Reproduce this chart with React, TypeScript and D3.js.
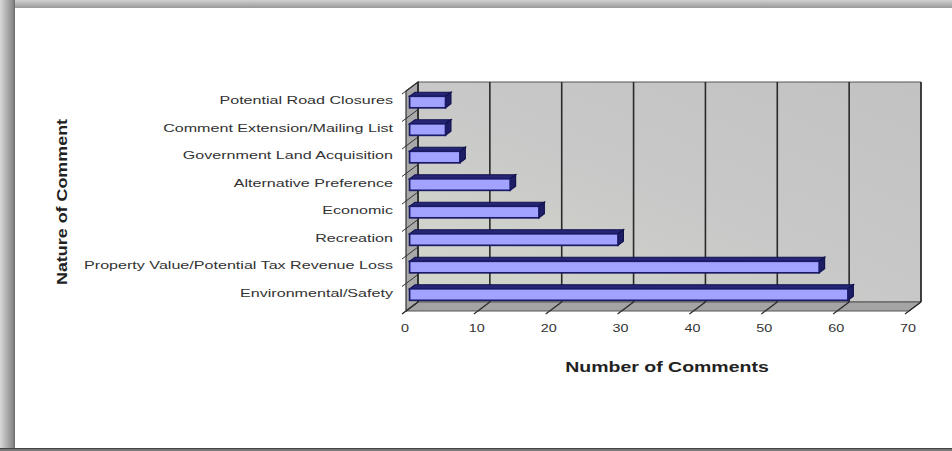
import React from "react";
import * as d3 from "d3";

const categories = [
  "Potential Road Closures",
  "Comment Extension/Mailing List",
  "Government Land Acquisition",
  "Alternative Preference",
  "Economic",
  "Recreation",
  "Property Value/Potential Tax Revenue Loss",
  "Environmental/Safety",
];
const values = [5, 5, 7, 14, 18, 29, 57, 61];
const xTicks = [0, 10, 20, 30, 40, 50, 60, 70];
const xTitle = "Number of Comments";
const yTitle = "Nature of Comment";

const W = 952;
const H = 451;
const DX = 12;
const DY = -9;
const FRONT_LEFT = 406;
const FRONT_RIGHT = 909;
const FRONT_TOP = 91;
const FRONT_BOTTOM = 311;
const F1 = 0.3;
const F2 = 0.75;

export default function App() {
  const x = d3.scaleLinear().domain([0, 70]).range([FRONT_LEFT, FRONT_RIGHT]);
  const y = d3.scaleBand<string>().domain(categories).range([FRONT_TOP, FRONT_BOTTOM]).paddingInner(0).paddingOuter(0);
  const bw = y.bandwidth();
  const barH = bw * 0.42;

  const pt = (px: number, py: number) => `${px},${py}`;
  const backWall = [
    pt(x(0) + DX, FRONT_TOP + DY),
    pt(x(70) + DX, FRONT_TOP + DY),
    pt(x(70) + DX, FRONT_BOTTOM + DY),
    pt(x(0) + DX, FRONT_BOTTOM + DY),
  ].join(" ");
  const floor = [
    pt(x(0), FRONT_BOTTOM),
    pt(x(70), FRONT_BOTTOM),
    pt(x(70) + DX, FRONT_BOTTOM + DY),
    pt(x(0) + DX, FRONT_BOTTOM + DY),
  ].join(" ");
  const leftWall = [
    pt(x(0), FRONT_TOP),
    pt(x(0) + DX, FRONT_TOP + DY),
    pt(x(0) + DX, FRONT_BOTTOM + DY),
    pt(x(0), FRONT_BOTTOM),
  ].join(" ");

  const labelFont = "'Liberation Sans', Arial, sans-serif";

  return (
    <svg width={W} height={H} style={{ position: "fixed", left: 0, top: 0, display: "block" }}>
      <defs>
        <linearGradient id="topBand" x1="0" y1="0" x2="0" y2="1">
          <stop offset="0" stopColor="#d0d0d0" />
          <stop offset="1" stopColor="#999999" />
        </linearGradient>
        <linearGradient id="leftBand" x1="0" y1="0" x2="1" y2="0">
          <stop offset="0" stopColor="#d8d8d8" />
          <stop offset="0.85" stopColor="#8a8a8a" />
          <stop offset="1" stopColor="#6a6a6a" />
        </linearGradient>
        <linearGradient id="wallGrad" x1="0" y1="1" x2="1" y2="0">
          <stop offset="0" stopColor="#d4d8cc" />
          <stop offset="0.5" stopColor="#c8c8c8" />
          <stop offset="1" stopColor="#c2c2c2" />
        </linearGradient>
      </defs>
      <rect x={0} y={0} width={W} height={H} fill="#ffffff" />
      <rect x={0} y={0} width={W} height={8} fill="url(#topBand)" />
      <rect x={0} y={0} width={15} height={H} fill="url(#leftBand)" />
      <rect x={0} y={H - 3} width={W} height={3} fill="#777777" />
      <rect x={0} y={H - 3} width={W} height={1} fill="#444444" />

      {/* walls */}
      <polygon points={backWall} fill="url(#wallGrad)" stroke="#555" strokeWidth={1} />
      <polygon points={floor} fill="#a4a4a4" stroke="#555" strokeWidth={1} />
      <polygon points={leftWall} fill="#a9a9a9" stroke="#333" strokeWidth={1.2} />

      {/* gridlines on back wall and floor */}
      {xTicks.map((t) => (
        <g key={"g" + t}>
          <line x1={x(t) + DX} x2={x(t) + DX} y1={FRONT_TOP + DY} y2={FRONT_BOTTOM + DY} stroke="#2a2a2a" strokeWidth={1.6} />
          <line x1={x(t) + DX} x2={x(t)} y1={FRONT_BOTTOM + DY} y2={FRONT_BOTTOM} stroke="#2a2a2a" strokeWidth={1.4} />
          <line x1={x(t)} x2={x(t) - 4} y1={FRONT_BOTTOM} y2={FRONT_BOTTOM + 3} stroke="#2a2a2a" strokeWidth={1.2} />
        </g>
      ))}

      {/* category ticks on left wall */}
      {[...categories.map((c) => y(c) as number), FRONT_BOTTOM].map((yy, i) => (
        <g key={"ct" + i}>
          <line x1={x(0)} x2={x(0) + DX} y1={yy} y2={yy + DY} stroke="#333" strokeWidth={1} />
          <line x1={x(0)} x2={x(0) - 4} y1={yy} y2={yy + 3} stroke="#333" strokeWidth={1} />
        </g>
      ))}

      {/* bars */}
      {categories.map((c, i) => {
        const v = values[i];
        const cy = (y(c) as number) + bw / 2;
        const fx0 = x(0) + F1 * DX;
        const fx1 = x(v) + F1 * DX;
        const fy0 = cy - barH / 2 + F1 * DY;
        const fy1 = cy + barH / 2 + F1 * DY;
        const ddx = (F2 - F1) * DX;
        const ddy = (F2 - F1) * DY;
        const top = [pt(fx0, fy0), pt(fx1, fy0), pt(fx1 + ddx, fy0 + ddy), pt(fx0 + ddx, fy0 + ddy)].join(" ");
        const end = [pt(fx1, fy0), pt(fx1 + ddx, fy0 + ddy), pt(fx1 + ddx, fy1 + ddy), pt(fx1, fy1)].join(" ");
        return (
          <g key={c}>
            <polygon points={top} fill="#262676" stroke="#12124f" strokeWidth={1.2} />
            <polygon points={end} fill="#1e1e66" stroke="#12124f" strokeWidth={1.2} />
            <rect x={fx0} y={fy0} width={fx1 - fx0} height={fy1 - fy0} fill="#a2a2ff" stroke="#1a1a66" strokeWidth={1.7} />
          </g>
        );
      })}

      {/* category labels */}
      {categories.map((c) => {
        const cy = (y(c) as number) + bw / 2 + 0.5 * DY;
        return (
          <g key={"l" + c} transform={`translate(393,${cy}) scale(1.4,1)`}>
            <text x={0} y={0} dy="0.35em" textAnchor="end" fontFamily={labelFont} fontSize={11.5} fill="#333">
              {c}
            </text>
          </g>
        );
      })}

      {/* x tick labels */}
      {xTicks.map((t) => (
        <g key={"xl" + t} transform={`translate(${x(t) - 1},332) scale(1.25,1)`}>
          <text x={0} y={0} textAnchor="middle" fontFamily={labelFont} fontSize={11.5} fill="#333">
            {t}
          </text>
        </g>
      ))}

      {/* axis titles */}
      <g transform="translate(667,372) scale(1.3,1)">
        <text x={0} y={0} textAnchor="middle" fontFamily={labelFont} fontWeight="bold" fontSize={15} fill="#222">
          {xTitle}
        </text>
      </g>
      <g transform="translate(67,202) rotate(-90) scale(1.28,1)">
        <text x={0} y={0} textAnchor="middle" fontFamily={labelFont} fontWeight="bold" fontSize={14} fill="#222">
          {yTitle}
        </text>
      </g>
    </svg>
  );
}
